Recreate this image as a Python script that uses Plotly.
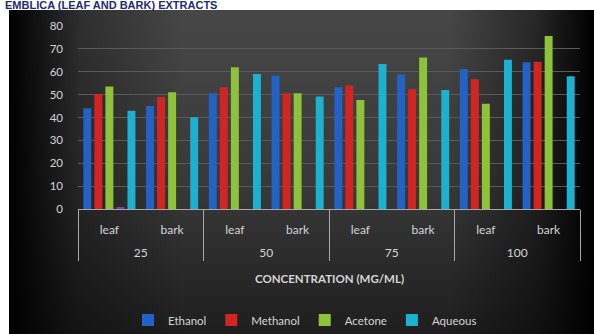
import base64
import plotly.graph_objects as go

# Concentration groups (mg/ml) and plant parts
concentrations = ["25", "25", "50", "50", "75", "75", "100", "100"]
parts = ["leaf", "bark", "leaf", "bark", "leaf", "bark", "leaf", "bark"]

# Series values per concentration / part
ethanol = [44, 45, 50.6, 58.2, 53.2, 58.8, 61.2, 64.1]
methanol = [50.3, 49, 53.2, 50.6, 54, 52.4, 56.7, 64.4]
acetone = [53.5, 51, 62, 50.6, 47.7, 66.2, 46, 75.6]
other = [0.6, 0, 0, 0, 0, 0, 0, 0]
aqueous = [43, 40.1, 59, 49.2, 63.4, 52, 65.2, 58]

series = [
    ("Ethanol", ethanol, "#2162c4", True),
    ("Methanol", methanol, "#d32424", True),
    ("Acetone", acetone, "#8dc23a", True),
    ("Other", other, "#7a3fb2", False),
    ("Aqueous", aqueous, "#1bb1cf", True),
]

W, H = 594, 334
# plot area in pixels
L, R, T, B = 78, 580, 26, 209
pw, ph = R - L, B - T


def px_x(p):
    return (p - L) / pw


def px_y(p):
    return (B - p) / ph


# dark vignetted panel drawn as an SVG background image
svg = f"""<svg xmlns='http://www.w3.org/2000/svg' width='585' height='324' viewBox='0 0 585 324' preserveAspectRatio='none'>
<defs>
<linearGradient id='v' x1='0' y1='0' x2='0' y2='1'>
<stop offset='0' stop-color='#474747'/>
<stop offset='0.55' stop-color='#383838'/>
<stop offset='1' stop-color='#1e1e1e'/>
</linearGradient>
<linearGradient id='h' x1='0' y1='0' x2='1' y2='0'>
<stop offset='0' stop-color='#000' stop-opacity='1'/>
<stop offset='0.12' stop-color='#000' stop-opacity='0.35'/>
<stop offset='0.3' stop-color='#000' stop-opacity='0'/>
<stop offset='0.75' stop-color='#000' stop-opacity='0'/>
<stop offset='0.9' stop-color='#000' stop-opacity='0.45'/>
<stop offset='1' stop-color='#000' stop-opacity='1'/>
</linearGradient>
</defs>
<rect width='585' height='324' fill='url(#v)'/>
<rect width='585' height='324' fill='url(#h)'/>
</svg>"""
bg_uri = "data:image/svg+xml;base64," + base64.b64encode(svg.encode()).decode()

# outer category labels sit one line lower, under the plant-part labels
outer_labels = ["<br>" + c for c in concentrations]

fig = go.Figure()
for name, vals, color, show in series:
    fig.add_trace(go.Bar(
        name=name,
        x=[outer_labels, parts],
        y=vals,
        marker=dict(color=color, line=dict(width=0)),
        showlegend=show,
    ))

label_font = dict(family="Lato, Open Sans, sans-serif", size=11.5, color="#d4d4d4")
cat_font = dict(family="Lato, Open Sans, sans-serif", size=12, color="#d4d4d4")

fig.update_layout(
    width=W, height=H,
    margin=dict(l=L, r=W - R, t=T, b=H - B, pad=0, autoexpand=False),
    paper_bgcolor="white",
    plot_bgcolor="rgba(0,0,0,0)",
    barmode="group",
    bargap=0.12,
    bargroupgap=0.28,
    font=label_font,
    showlegend=True,
    legend=dict(
        orientation="h",
        x=px_x(305), xanchor="center",
        y=px_y(320), yanchor="middle",
        font=label_font,
        bgcolor="rgba(0,0,0,0)",
        itemwidth=30,
        traceorder="normal",
    ),
    images=[dict(
        source=bg_uri, xref="paper", yref="paper",
        x=px_x(9), y=px_y(10),
        sizex=px_x(594) - px_x(9), sizey=px_y(10) - px_y(334),
        xanchor="left", yanchor="top", sizing="stretch", layer="below",
    )],
    xaxis=dict(
        type="multicategory",
        automargin=False,
        showline=True, linecolor="#a8a8a8", linewidth=1,
        showdividers=True, dividercolor="#a8a8a8", dividerwidth=1,
        ticks="",
        ticklabelstandoff=10,
        tickfont=cat_font,
        showgrid=False,
    ),
    yaxis=dict(
        range=[0, 80], dtick=10,
        automargin=False,
        showgrid=True, gridcolor="#5a5a5a", gridwidth=1,
        zeroline=False,
        showline=False,
        ticks="",
        ticklabelstandoff=14,
        tickfont=label_font,
    ),
    annotations=[
        dict(
            text="<b>CONCENTRATION (MG/ML)</b>",
            xref="paper", yref="paper",
            x=0.5, y=px_y(278), xanchor="center", yanchor="middle",
            showarrow=False, font=label_font,
        ),
        dict(
            text="<b>EMBLICA (LEAF AND BARK) EXTRACTS</b>",
            xref="paper", yref="paper",
            x=px_x(3), y=px_y(5), xanchor="left", yanchor="middle",
            showarrow=False,
            font=dict(family="Liberation Sans, Arial, sans-serif", size=11, color="#232a72"),
        ),
    ],
)

fig.write_html("out.html")
